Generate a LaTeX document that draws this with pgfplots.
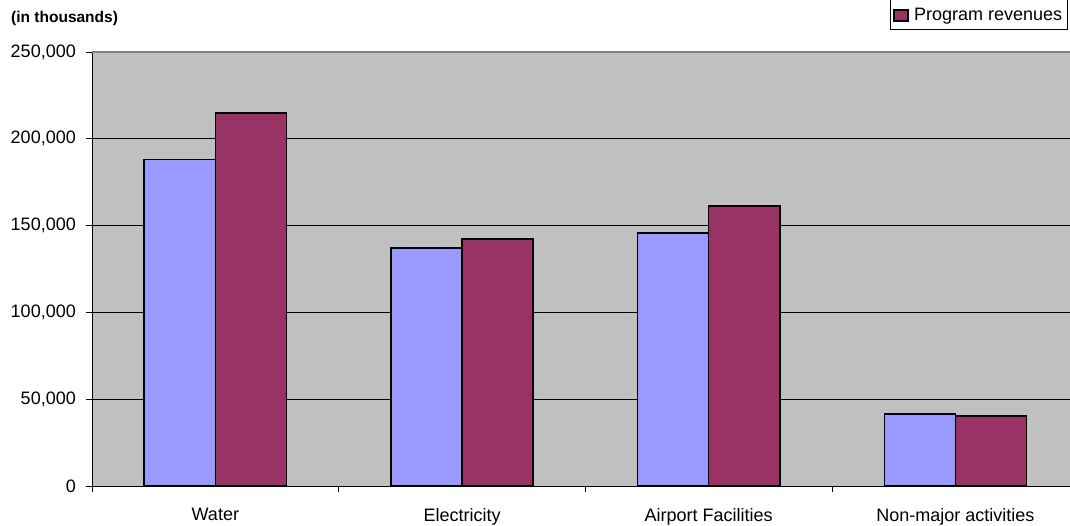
\documentclass[border=0pt]{standalone}
\usepackage{fontspec}
\setmainfont{Liberation Sans}
\usepackage{pgfplots}
\pgfplotsset{compat=1.18}
\definecolor{cblue}{HTML}{9999FF}
\definecolor{cred}{HTML}{993366}
\definecolor{cgray}{HTML}{C0C0C0}
\definecolor{cborder}{HTML}{808080}
\begin{document}
\fontsize{18}{21}\selectfont
\begin{tikzpicture}
\useasboundingbox (0,0) rectangle (1070pt,525pt);
\node[anchor=west,font=\fontsize{15.5}{17}\selectfont\bfseries] at (5pt,507pt) {(in thousands)};
\begin{axis}[
  at={(92pt,39pt)}, anchor=south west,
  scale only axis, width=986.7pt, height=434pt,
  xmin=-0.5, xmax=3.5, ymin=0, ymax=250000,
  axis background/.style={fill=cgray},
  axis lines*=left,
  axis line style={black, line width=0.9pt},
  xtick={0,1,2,3},
  xticklabels={Water,Electricity,Airport Facilities,Non-major activities},
  major x tick style={draw=none},
  minor xtick={-0.5,0.5,1.5,2.5,3.5},
  minor x tick style={black, line width=0.9pt},
  minor tick length=6pt,
  tick align=outside,
  ytick={0,50000,100000,150000,200000,250000},
  yticklabels={0,{50,000},{100,000},{150,000},{200,000},{250,000}},
  scaled y ticks=false,
  major tick length=6pt,
  y tick style={black, line width=0.9pt},
  ymajorgrids,
  major grid style={black, line width=0.8pt},
  xticklabel style={yshift=-10pt},
  yticklabel style={xshift=-4pt},
  bar width=0.288,
  legend style={at={(rel axis cs:0.9887,1.0507)}, anchor=south east, draw=black, line width=0.8pt,
    font=\fontsize{18}{21}\selectfont, inner ysep=4pt, inner xsep=3pt,
    legend cell align=left},
  legend image code/.code={\draw[#1, line width=1.2pt] (0pt,-5pt) rectangle (14pt,6pt);
    \path[draw=none,fill=none] (0pt,0pt) rectangle (18pt,24pt);},
]
\addplot[ybar, bar shift=-0.144, fill=cblue, draw=black, line width=1.6pt, forget plot]
  coordinates {(0,188000) (1,137000) (2,145700) (3,41500)};
\addplot[ybar, bar shift=0.144, fill=cred, draw=black, line width=1.6pt]
  coordinates {(0,215000) (1,142300) (2,161300) (3,40300)};
\legend{Program revenues}
\draw[cborder, line width=1.6pt] (rel axis cs:0,1) -- (rel axis cs:1,1);
\end{axis}
\end{tikzpicture}
\end{document}
